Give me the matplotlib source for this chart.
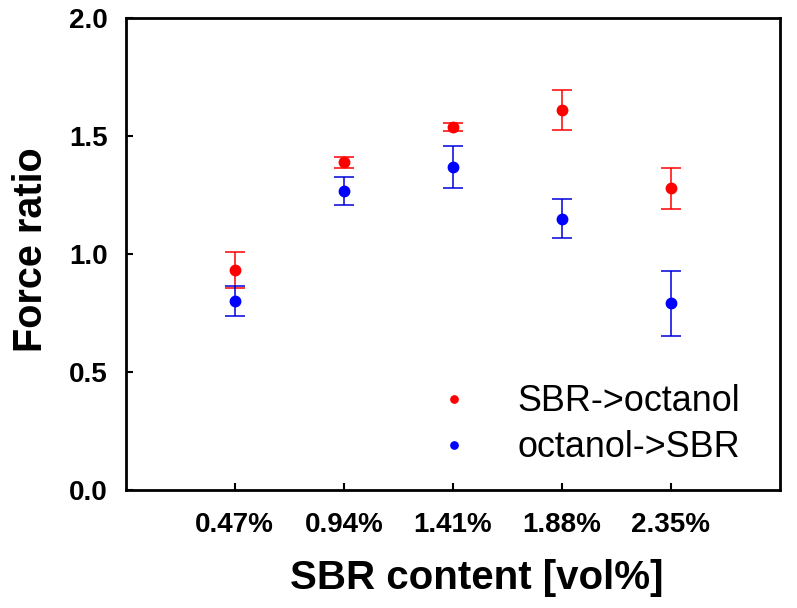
import matplotlib
matplotlib.use("Agg")
import matplotlib.pyplot as plt

categories = ["0.47%", "0.94%", "1.41%", "1.88%", "2.35%"]
sbr_to_oct = [0.93, 1.387, 1.537, 1.608, 1.277]
sbr_to_oct_err = [0.077, 0.023, 0.018, 0.085, 0.086]
oct_to_sbr = [0.799, 1.266, 1.368, 1.148, 0.790]
oct_to_sbr_err = [0.063, 0.058, 0.090, 0.082, 0.137]
yticks = [0.0, 0.5, 1.0, 1.5, 2.0]

plt.rcParams['font.family'] = ['Liberation Sans', 'DejaVu Sans']

fig = plt.figure(figsize=(7.97, 6.08), dpi=100)
ax = fig.add_axes([0.1577, 0.1941, 0.9787 - 0.1577, 0.9712 - 0.1941])

x = list(range(1, len(categories) + 1))
ax.errorbar(x, sbr_to_oct, yerr=sbr_to_oct_err, fmt='o', color='#ff0000',
            ecolor='#ff0000', markersize=7.5, capsize=7, elinewidth=1.1,
            capthick=1.1, label='SBR->octanol', zorder=3)
ax.errorbar(x, oct_to_sbr, yerr=oct_to_sbr_err, fmt='o', color='#0000ff',
            ecolor='#0000dd', markersize=7.5, capsize=7, elinewidth=1.1,
            capthick=1.1, label='octanol->SBR', zorder=3)

ax.set_xlim(0, 6)
ax.set_ylim(0, 2.0)
ax.set_xticks(x)
ax.set_xticklabels(categories)
ax.set_yticks(yticks)
ax.set_yticklabels([f"{v:.1f}" for v in yticks])

for sp in ax.spines.values():
    sp.set_linewidth(2.0)

ax.tick_params(axis='both', direction='in', length=5, width=1.5,
               labelsize=20)
ax.tick_params(axis='x', pad=15.5)
ax.tick_params(axis='y', pad=13)
for lbl in ax.get_xticklabels() + ax.get_yticklabels():
    lbl.set_fontweight('bold')

ax.set_xlabel("SBR content [vol%]", fontsize=29, fontweight='bold')
ax.xaxis.set_label_coords(0.537, -0.186)
ax.xaxis.label.set_va('center')
ax.set_ylabel("Force ratio", fontsize=28.5, fontweight='bold')
ax.yaxis.set_label_coords(-0.145, 0.508)
ax.yaxis.label.set_va('center')

handles, labels = ax.get_legend_handles_labels()
handles = [h[0] for h in handles]
leg = ax.legend(handles, labels, loc='center left',
                bbox_to_anchor=(0.475, 0.138), frameon=False, fontsize=25.8,
                handlelength=1.0, handletextpad=1.25, labelspacing=0.3,
                markerscale=0.7, borderpad=0, borderaxespad=0)

fig.savefig("out.png", dpi=100)
